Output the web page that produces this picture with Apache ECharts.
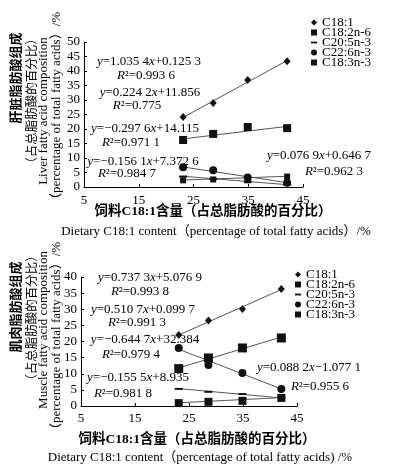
<!DOCTYPE html>
<html>
<head>
<meta charset="utf-8">
<script src="https://cdn.jsdelivr.net/npm/echarts@6/dist/echarts.min.js"></script>
<style>
html,body{margin:0;padding:0;background:#fff;}
#chart{width:394px;height:474px;}
</style>
</head>
<body>
<div id="chart"></div>
<script>
// ---- data ----
const fattyNames = ['C18:1', 'C18:2n-6', 'C20:5n-3', 'C22:6n-3', 'C18:3n-3'];
const dietC181 = [23.1, 28.6, 34.9, 42.1];
const xTicks = [5, 15, 25, 35, 45];

const liverC181 = [24.1, 29.0, 36.9, 43.4];
const liverC182 = [16.2, 18.3, 20.7, 20.3];
const liverC205 = [3.6, 2.8, 1.8, 0.8];
const liverC226 = [6.8, 5.8, 3.3, 1.5];
const liverC183 = [2.3, 2.6, 2.3, 3.6];
const liverFitStart = [24.0, 16.6, 3.7, 6.9, 2.4];
const liverFitEnd = [43.6, 20.9, 0.8, 1.5, 3.7];

const muscleC181 = [22.0, 26.5, 30.1, 36.3];
const muscleC182 = [11.6, 14.9, 18.0, 21.1];
const muscleC205 = [5.3, 4.4, 3.7, 2.7];
const muscleC226 = [18.0, 12.7, 10.2, 5.3];
const muscleC183 = [0.9, 1.3, 1.6, 2.5];
const muscleFitStart = [22.0, 11.8, 5.4, 17.6, 1.0];
const muscleFitEnd = [36.1, 21.4, 2.5, 5.3, 2.6];

const liverEquations = [
  '{i|y}=1.035 4{i|x}+0.125 3', '{i|R}²=0.993 6',
  '{i|y}=0.224 2{i|x}+11.856', '{i|R}²=0.775',
  '{i|y}=−0.297 6{i|x}+14.115', '{i|R}²=0.971 1',
  '{i|y}=−0.156 1{i|x}+7.372 6', '{i|R}²=0.984 7',
  '{i|y}=0.076 9{i|x}+0.646 7', '{i|R}²=0.962 3'
];
const muscleEquations = [
  '{i|y}=0.737 3{i|x}+5.076 9', '{i|R}²=0.993 8',
  '{i|y}=0.510 7{i|x}+0.099 7', '{i|R}²=0.991 3',
  '{i|y}=−0.644 7{i|x}+32.384', '{i|R}²=0.979 4',
  '{i|y}=−0.155 5{i|x}+8.935', '{i|R}²=0.981 8',
  '{i|y}=0.088 2{i|x}−1.077 1', '{i|R}²=0.955 6'
];

// ---- styles ----
const SERIF = '"Liberation Serif","Noto Sans CJK SC",serif';
const liverSymbols = [
  {symbol: 'diamond', size: [7, 8]},
  {symbol: 'rect', size: 8},
  {symbol: 'path://M0,0H10V2.6H0Z', size: [8, 2]},
  {symbol: 'circle', size: 8},
  {symbol: 'rect', size: 6}
];
const muscleSymbols = [
  {symbol: 'diamond', size: [7, 8]},
  {symbol: 'rect', size: 9},
  {symbol: 'path://M0,0H10V2.6H0Z', size: [8, 2]},
  {symbol: 'circle', size: 8},
  {symbol: 'rect', size: 8}
];
const legendIcons = ['diamond', 'rect', 'path://M0,0H10V3H0Z', 'circle', 'rect'];

const liverValues = [liverC181, liverC182, liverC205, liverC226, liverC183];
const muscleValues = [muscleC181, muscleC182, muscleC205, muscleC226, muscleC183];

function buildSeries(values, fitStart, fitEnd, symbols, gi) {
  const out = [];
  values.forEach((vals, k) => {
    out.push({
      type: 'line', name: fattyNames[k] + ' fit', xAxisIndex: gi, yAxisIndex: gi,
      data: [[dietC181[0], fitStart[k]], [dietC181[dietC181.length - 1], fitEnd[k]]],
      showSymbol: false, symbol: 'none', silent: true, z: 1,
      lineStyle: {color: '#555', width: 1}
    });
    out.push({
      type: 'scatter', name: fattyNames[k], xAxisIndex: gi, yAxisIndex: gi,
      data: vals.map((v, i) => [dietC181[i], v]),
      symbol: symbols[k].symbol, symbolSize: symbols[k].size, z: 3,
      itemStyle: {color: '#111', opacity: 1}
    });
  });
  return out;
}

function xAxisCfg(gi, margin) {
  return {
    type: 'value', gridIndex: gi, min: 5, max: 45, interval: 10,
    axisLine: {lineStyle: {color: '#000', width: 1}},
    axisTick: {show: true, inside: true, length: 3, lineStyle: {color: '#000'}},
    splitLine: {show: false},
    axisLabel: {color: '#000', fontFamily: SERIF, fontSize: 13, margin: margin,
      formatter: v => xTicks.includes(v) ? String(v) : ''}
  };
}
function yAxisCfg(gi, max) {
  return {
    type: 'value', gridIndex: gi, min: 0, max: max, interval: 5,
    axisLine: {show: true, lineStyle: {color: '#000', width: 1}},
    axisTick: {show: true, inside: true, length: 3, lineStyle: {color: '#000'}},
    splitLine: {show: false},
    axisLabel: {color: '#000', fontFamily: SERIF, fontSize: 13, margin: 4}
  };
}

function legendCfg(left, top) {
  return {
    orient: 'vertical', left: left, top: top,
    itemWidth: 6, itemHeight: 6, itemGap: -3, itemTextGap: 2,
    padding: 0, selectedMode: false,
    textStyle: {fontFamily: SERIF, fontSize: 13, lineHeight: 10.4, color: '#000'},
    data: fattyNames.map((n, k) => ({name: n, icon: legendIcons[k]}))
  };
}

const rich = {i: {fontStyle: 'italic', fontFamily: SERIF, fontSize: 13, fill: '#000'}};
function eqText(text, x, y) {
  return {type: 'text', x: x, y: y, silent: true,
    style: {text: text, rich: rich, fontFamily: SERIF, fontSize: 13, fill: '#000',
      align: 'center', verticalAlign: 'middle'}};
}
function vText(text, x, y, opts) {
  return {type: 'text', x: x, y: y, rotation: Math.PI / 2, silent: true,
    style: Object.assign({text: text, fontFamily: SERIF, fontSize: 13, fill: '#000',
      align: 'center', verticalAlign: 'middle'}, opts || {})};
}
function hText(text, x, y, opts) {
  return {type: 'text', x: x, y: y, silent: true,
    style: Object.assign({text: text, fontFamily: SERIF, fontSize: 13, fill: '#000',
      align: 'center', verticalAlign: 'middle'}, opts || {})};
}

const liverEqPos = [[149, 62], [146, 76], [150, 93], [137, 106], [145, 129], [131, 143], [143, 162], [127, 174], [319, 156], [334, 172]];
const muscleEqPos = [[150, 278], [140, 292], [143, 310], [137, 323], [145, 340], [131, 355], [138, 378], [123, 394], [309, 368], [320, 387]];

const graphics = [];
liverEquations.forEach((t, i) => graphics.push(eqText(t, liverEqPos[i][0], liverEqPos[i][1])));
muscleEquations.forEach((t, i) => graphics.push(eqText(t, muscleEqPos[i][0], muscleEqPos[i][1])));

const cjk = {fontFamily: '"Noto Sans CJK SC",sans-serif', fontSize: 12.5};
const cjkTitle = {fontFamily: '"Noto Sans CJK SC",sans-serif', fontSize: 13, fontWeight: 'bold'};
graphics.push(vText('肝脏脂肪酸组成', 15, 78, cjkTitle));
graphics.push(vText('（占总脂肪酸的百分比）', 31, 101, cjk));
graphics.push(vText('Liver fatty acid composition', 44, 111));
graphics.push(vText('（percentage of total fatty acids）/%', 57, 109));
graphics.push(vText('肌肉脂肪酸组成', 15, 307, cjkTitle));
graphics.push(vText('（占总脂肪酸的百分比）', 31, 318, cjk));
graphics.push(vText('Muscle fatty acid composition', 44, 330));
graphics.push(vText('（percentage of total fatty acids）/%', 57, 339));

graphics.push(hText('饲料C18:1含量（占总脂肪酸的百分比）', 213, 212, {fontSize: 13.5, fontWeight: 'bold'}));
graphics.push(hText('Dietary C18:1 content（percentage of total fatty acids）/%', 216, 232));
graphics.push(hText('饲料C18:1含量（占总脂肪酸的百分比）', 197, 440, {fontSize: 13.5, fontWeight: 'bold'}));
graphics.push(hText('Dietary C18:1 content（percentage of total fatty acids) /%', 200, 458));

const option = {
  backgroundColor: '#fff',
  animation: false,
  grid: [
    {left: 84, top: 42, width: 219, height: 145},
    {left: 81, top: 277, width: 216, height: 129}
  ],
  xAxis: [xAxisCfg(0, 7), xAxisCfg(1, 6)],
  yAxis: [yAxisCfg(0, 50), yAxisCfg(1, 40)],
  legend: [legendCfg(311, 16), legendCfg(295, 268)],
  series: buildSeries(liverValues, liverFitStart, liverFitEnd, liverSymbols, 0)
    .concat(buildSeries(muscleValues, muscleFitStart, muscleFitEnd, muscleSymbols, 1)),
  graphic: graphics
};

const chart = echarts.init(document.getElementById('chart'), null, {renderer: 'canvas'});
chart.setOption(option);
</script>
</body>
</html>
